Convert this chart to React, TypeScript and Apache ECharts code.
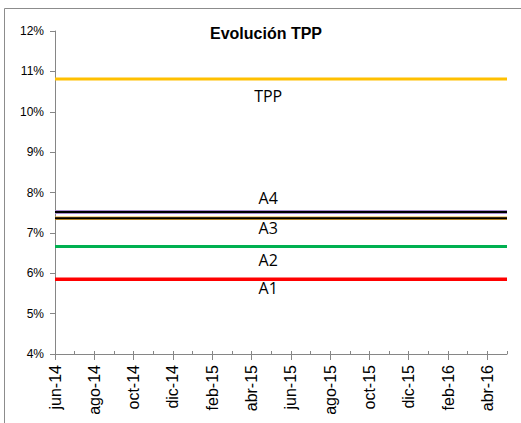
import React, { useEffect, useRef } from "react";
import * as echarts from "echarts";

const months = [
  "jun-14", "jul-14", "ago-14", "sep-14", "oct-14", "nov-14", "dic-14",
  "ene-15", "feb-15", "mar-15", "abr-15", "may-15", "jun-15", "jul-15",
  "ago-15", "sep-15", "oct-15", "nov-15", "dic-15", "ene-16", "feb-16",
  "mar-16", "abr-16", "may-16",
];

const tpp = [10.81, 10.81, 10.81, 10.81, 10.81, 10.81, 10.81, 10.81, 10.81, 10.81, 10.81, 10.81, 10.81, 10.81, 10.81, 10.81, 10.81, 10.81, 10.81, 10.81, 10.81, 10.81, 10.81, 10.81];
const a4 = [7.52, 7.52, 7.52, 7.52, 7.52, 7.52, 7.52, 7.52, 7.52, 7.52, 7.52, 7.52, 7.52, 7.52, 7.52, 7.52, 7.52, 7.52, 7.52, 7.52, 7.52, 7.52, 7.52, 7.52];
const a3 = [7.36, 7.36, 7.36, 7.36, 7.36, 7.36, 7.36, 7.36, 7.36, 7.36, 7.36, 7.36, 7.36, 7.36, 7.36, 7.36, 7.36, 7.36, 7.36, 7.36, 7.36, 7.36, 7.36, 7.36];
const a2 = [6.66, 6.66, 6.66, 6.66, 6.66, 6.66, 6.66, 6.66, 6.66, 6.66, 6.66, 6.66, 6.66, 6.66, 6.66, 6.66, 6.66, 6.66, 6.66, 6.66, 6.66, 6.66, 6.66, 6.66];
const a1 = [5.85, 5.85, 5.85, 5.85, 5.85, 5.85, 5.85, 5.85, 5.85, 5.85, 5.85, 5.85, 5.85, 5.85, 5.85, 5.85, 5.85, 5.85, 5.85, 5.85, 5.85, 5.85, 5.85, 5.85];

const yMin = 4;
const yMax = 12;
const yStep = 1;
const title = "Evolución TPP";

const LABEL_INDEX = 11;
const AXIS_COLOR = "#868686";

function withLabel(values: number[], text: string, dy: number) {
  return values.map((v, i) =>
    i === LABEL_INDEX
      ? {
          value: v,
          label: {
            show: true,
            position: "inside",
            offset: [-3, dy],
            formatter: text,
            fontFamily: "Open Sans",
            fontSize: 16,
            color: "#000000",
          },
        }
      : v
  );
}

function lineSeries(name: string, data: any[], color: string, width: number, z: number) {
  return {
    name,
    type: "line",
    data,
    showSymbol: true,
    symbol: "circle",
    symbolSize: 0,
    lineStyle: { color, width },
    itemStyle: { color },
    z,
    silent: true,
  };
}

export default function App() {
  const ref = useRef<HTMLDivElement>(null);

  useEffect(() => {
    if (!ref.current) return;
    const chart = echarts.init(ref.current, undefined, { renderer: "svg" });
    chart.setOption({
      animation: false,
      backgroundColor: "#ffffff",
      grid: { left: 55, right: 14, top: 31, bottom: 69 },
      graphic: [
        {
          type: "rect",
          z: -10,
          shape: { x: 4.5, y: 8.5, width: 700, height: 600 },
          style: { fill: "none", stroke: "#8c8c8c", lineWidth: 1 },
        },
        {
          type: "text",
          x: 266,
          y: 33,
          style: {
            text: title,
            font: "bold 16px 'Liberation Sans', Arial, sans-serif",
            fill: "#000000",
            textAlign: "center",
            textVerticalAlign: "middle",
          },
        },
      ],
      xAxis: [
        {
          type: "category",
          data: months,
          boundaryGap: false,
          axisLine: { show: true, lineStyle: { color: AXIS_COLOR, width: 1 } },
          axisTick: { show: true, interval: 1, length: 6, lineStyle: { color: AXIS_COLOR } },
          axisLabel: {
            interval: 1,
            rotate: 90,
            margin: 11,
            fontSize: 16,
            fontFamily: "'Liberation Sans', Arial, sans-serif",
            color: "#000000",
          },
          splitLine: { show: false },
        },
        {
          type: "category",
          data: months,
          boundaryGap: false,
          position: "bottom",
          axisLine: { show: false },
          axisTick: { show: true, inside: true, interval: 0, length: 3, lineStyle: { color: AXIS_COLOR } },
          axisLabel: { show: false },
          splitLine: { show: false },
        },
      ],
      yAxis: {
        type: "value",
        min: yMin,
        max: yMax,
        interval: yStep,
        axisLine: { show: true, lineStyle: { color: AXIS_COLOR, width: 1 } },
        axisTick: { show: true, length: 5, lineStyle: { color: AXIS_COLOR } },
        axisLabel: {
          formatter: "{value}%",
          margin: 11,
          fontSize: 12,
          fontFamily: "'Liberation Sans', Arial, sans-serif",
          color: "#000000",
        },
        splitLine: { show: false },
      },
      series: [
        lineSeries("TPP", withLabel(tpp, "TPP", 17), "#FFC000", 3, 5),
        lineSeries("A4", withLabel(a4, "A4", -14), "#a98bcf", 4, 5),
        lineSeries("A4 core", a4, "#000000", 2, 6),
        lineSeries("A3", withLabel(a3, "A3", 9.5), "#e9a630", 3.5, 5),
        lineSeries("A3 core", a3, "#000000", 2, 6),
        lineSeries("A2", withLabel(a2, "A2", 13.5), "#00B050", 3, 5),
        lineSeries("A1", withLabel(a1, "A1", 9), "#FF0000", 3.5, 5),
      ],
    });
    return () => chart.dispose();
  }, []);

  return (
    <div
      ref={ref}
      style={{ position: "fixed", left: 0, top: 0, width: 521, height: 423, background: "#fff" }}
    />
  );
}
